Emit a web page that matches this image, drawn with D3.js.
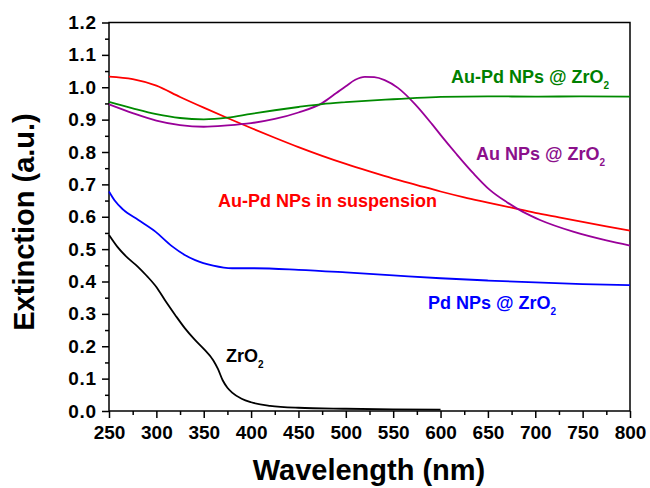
<!DOCTYPE html>
<html><head><meta charset="utf-8">
<script src="https://cdn.jsdelivr.net/npm/d3@7"></script>
<style>
html,body{margin:0;padding:0;background:#fff;}
svg{display:block;}
text{font-family:"Liberation Sans",Arial,sans-serif;font-weight:bold;}
</style></head>
<body>
<svg id="chart" width="650" height="488"></svg>
<script>
// Data (wavelength nm, extinction a.u.)
const redData = [[250,1.033],[275,1.025],[300,1.005],[325,0.970],[350,0.937],[375,0.905],[400,0.874],[425,0.844],[450,0.815],[475,0.788],[500,0.763],[525,0.740],[550,0.718],[575,0.698],[600,0.678],[625,0.660],[650,0.644],[675,0.628],[700,0.612],[725,0.598],[750,0.584],[775,0.570],[800,0.557]];
const greenData = [[250,0.955],[275,0.935],[300,0.917],[325,0.905],[350,0.901],[375,0.906],[400,0.918],[425,0.929],[450,0.939],[475,0.948],[500,0.954],[525,0.959],[550,0.963],[575,0.967],[600,0.970],[650,0.972],[700,0.971],[750,0.972],[800,0.971]];
const purpleData = [[250,0.947],[275,0.920],[300,0.897],[325,0.883],[350,0.878],[375,0.882],[400,0.889],[425,0.902],[450,0.922],[475,0.951],[490,0.982],[500,1.003],[510,1.023],[520,1.032],[530,1.031],[541,1.022],[555,0.998],[573,0.948],[591,0.886],[600,0.853],[617,0.793],[635,0.733],[652,0.683],[670,0.645],[687,0.615],[705,0.590],[740,0.554],[775,0.527],[800,0.511]];
const blueData = [[250,0.678],[256,0.650],[265,0.622],[281,0.590],[299,0.554],[316,0.510],[330,0.482],[341,0.466],[360,0.449],[380,0.441],[400,0.441],[450,0.436],[500,0.428],[550,0.419],[600,0.410],[650,0.403],[700,0.397],[750,0.392],[800,0.389]];
const blackData = [[250,0.544],[260,0.503],[270,0.472],[280,0.447],[290,0.417],[300,0.383],[310,0.338],[320,0.296],[330,0.256],[340,0.222],[350,0.192],[360,0.157],[365,0.130],[370,0.095],[375,0.072],[380,0.057],[390,0.038],[400,0.027],[420,0.016],[450,0.010],[500,0.007],[550,0.005],[600,0.004]];
const xTicks = [250,300,350,400,450,500,550,600,650,700,750,800];
const yTicks = [0.0,0.1,0.2,0.3,0.4,0.5,0.6,0.7,0.8,0.9,1.0,1.1,1.2];

const svg = d3.select("#chart");
const L = 109, R = 630, T = 22.5, B = 411;
const x = d3.scaleLinear().domain([250,800]).range([L,R]);
const y = d3.scaleLinear().domain([0,1.2]).range([B,T]);

// minor ticks
svg.append("g").attr("transform",`translate(0,${B})`)
  .call(d3.axisBottom(x).tickValues(d3.range(275,800,50)).tickSize(4).tickFormat(""))
  .call(g=>g.select(".domain").remove())
  .call(g=>g.selectAll("line").attr("stroke","#000").attr("stroke-width",1.5));
svg.append("g").attr("transform",`translate(${L},0)`)
  .call(d3.axisLeft(y).tickValues(d3.range(0.05,1.2,0.1)).tickSize(4).tickFormat(""))
  .call(g=>g.select(".domain").remove())
  .call(g=>g.selectAll("line").attr("stroke","#000").attr("stroke-width",1.5));

// major axes
const xa = svg.append("g").attr("transform",`translate(0,${B})`)
  .call(d3.axisBottom(x).tickValues(xTicks).tickSize(7).tickPadding(8).tickFormat(d3.format("d")));
xa.select(".domain").remove();
xa.selectAll("line").attr("stroke","#000").attr("stroke-width",1.5);
xa.selectAll("text").attr("font-size",19).attr("fill","#000").attr("font-family","Liberation Sans, Arial, sans-serif").attr("font-weight","bold");

const ya = svg.append("g").attr("transform",`translate(${L},0)`)
  .call(d3.axisLeft(y).tickValues(yTicks).tickSize(7).tickPadding(5).tickFormat(d3.format(".1f")));
ya.select(".domain").remove();
ya.selectAll("line").attr("stroke","#000").attr("stroke-width",1.5);
ya.selectAll("text").attr("font-size",19).attr("fill","#000").attr("letter-spacing","0.8px").attr("font-family","Liberation Sans, Arial, sans-serif").attr("font-weight","bold");

// frame
svg.append("rect").attr("x",L).attr("y",T).attr("width",R-L).attr("height",B-T)
  .attr("fill","none").attr("stroke","#000").attr("stroke-width",1.5);

const line = d3.line().x(d=>x(d[0])).y(d=>y(d[1])).curve(d3.curveMonotoneX);
const series = [
  [blackData,"#000000"],
  [blueData,"#0000ff"],
  [redData,"#ff0000"],
  [purpleData,"#990099"],
  [greenData,"#008a00"]
];
series.forEach(([d,c])=>{
  svg.append("path").datum(d).attr("d",line).attr("fill","none").attr("stroke",c).attr("stroke-width",1.8);
});

// labels
function label(txt, sub, px, py, color){
  const t = svg.append("text").attr("x",px).attr("y",py).attr("fill",color).attr("font-size",18);
  t.append("tspan").text(txt);
  if(sub){ t.append("tspan").attr("font-size",10).attr("dy",6).text(sub); }
}
label("Au-Pd NPs @ ZrO","2",451,83,"#008000");
label("Au NPs @ ZrO","2",476,160,"#8b108b");
label("Au-Pd NPs in suspension","",218,207,"#ff0000");
label("Pd NPs @ ZrO","2",428,309,"#0000ff");
label("ZrO","2",226,362,"#000000");

// axis titles
svg.append("text").attr("x",369).attr("y",480).attr("text-anchor","middle")
  .attr("font-size",29).attr("fill","#000").text("Wavelength (nm)");
svg.append("text").attr("transform","translate(34,222) rotate(-90)").attr("text-anchor","middle")
  .attr("font-size",29).attr("fill","#000").text("Extinction (a.u.)");
</script>
</body></html>
